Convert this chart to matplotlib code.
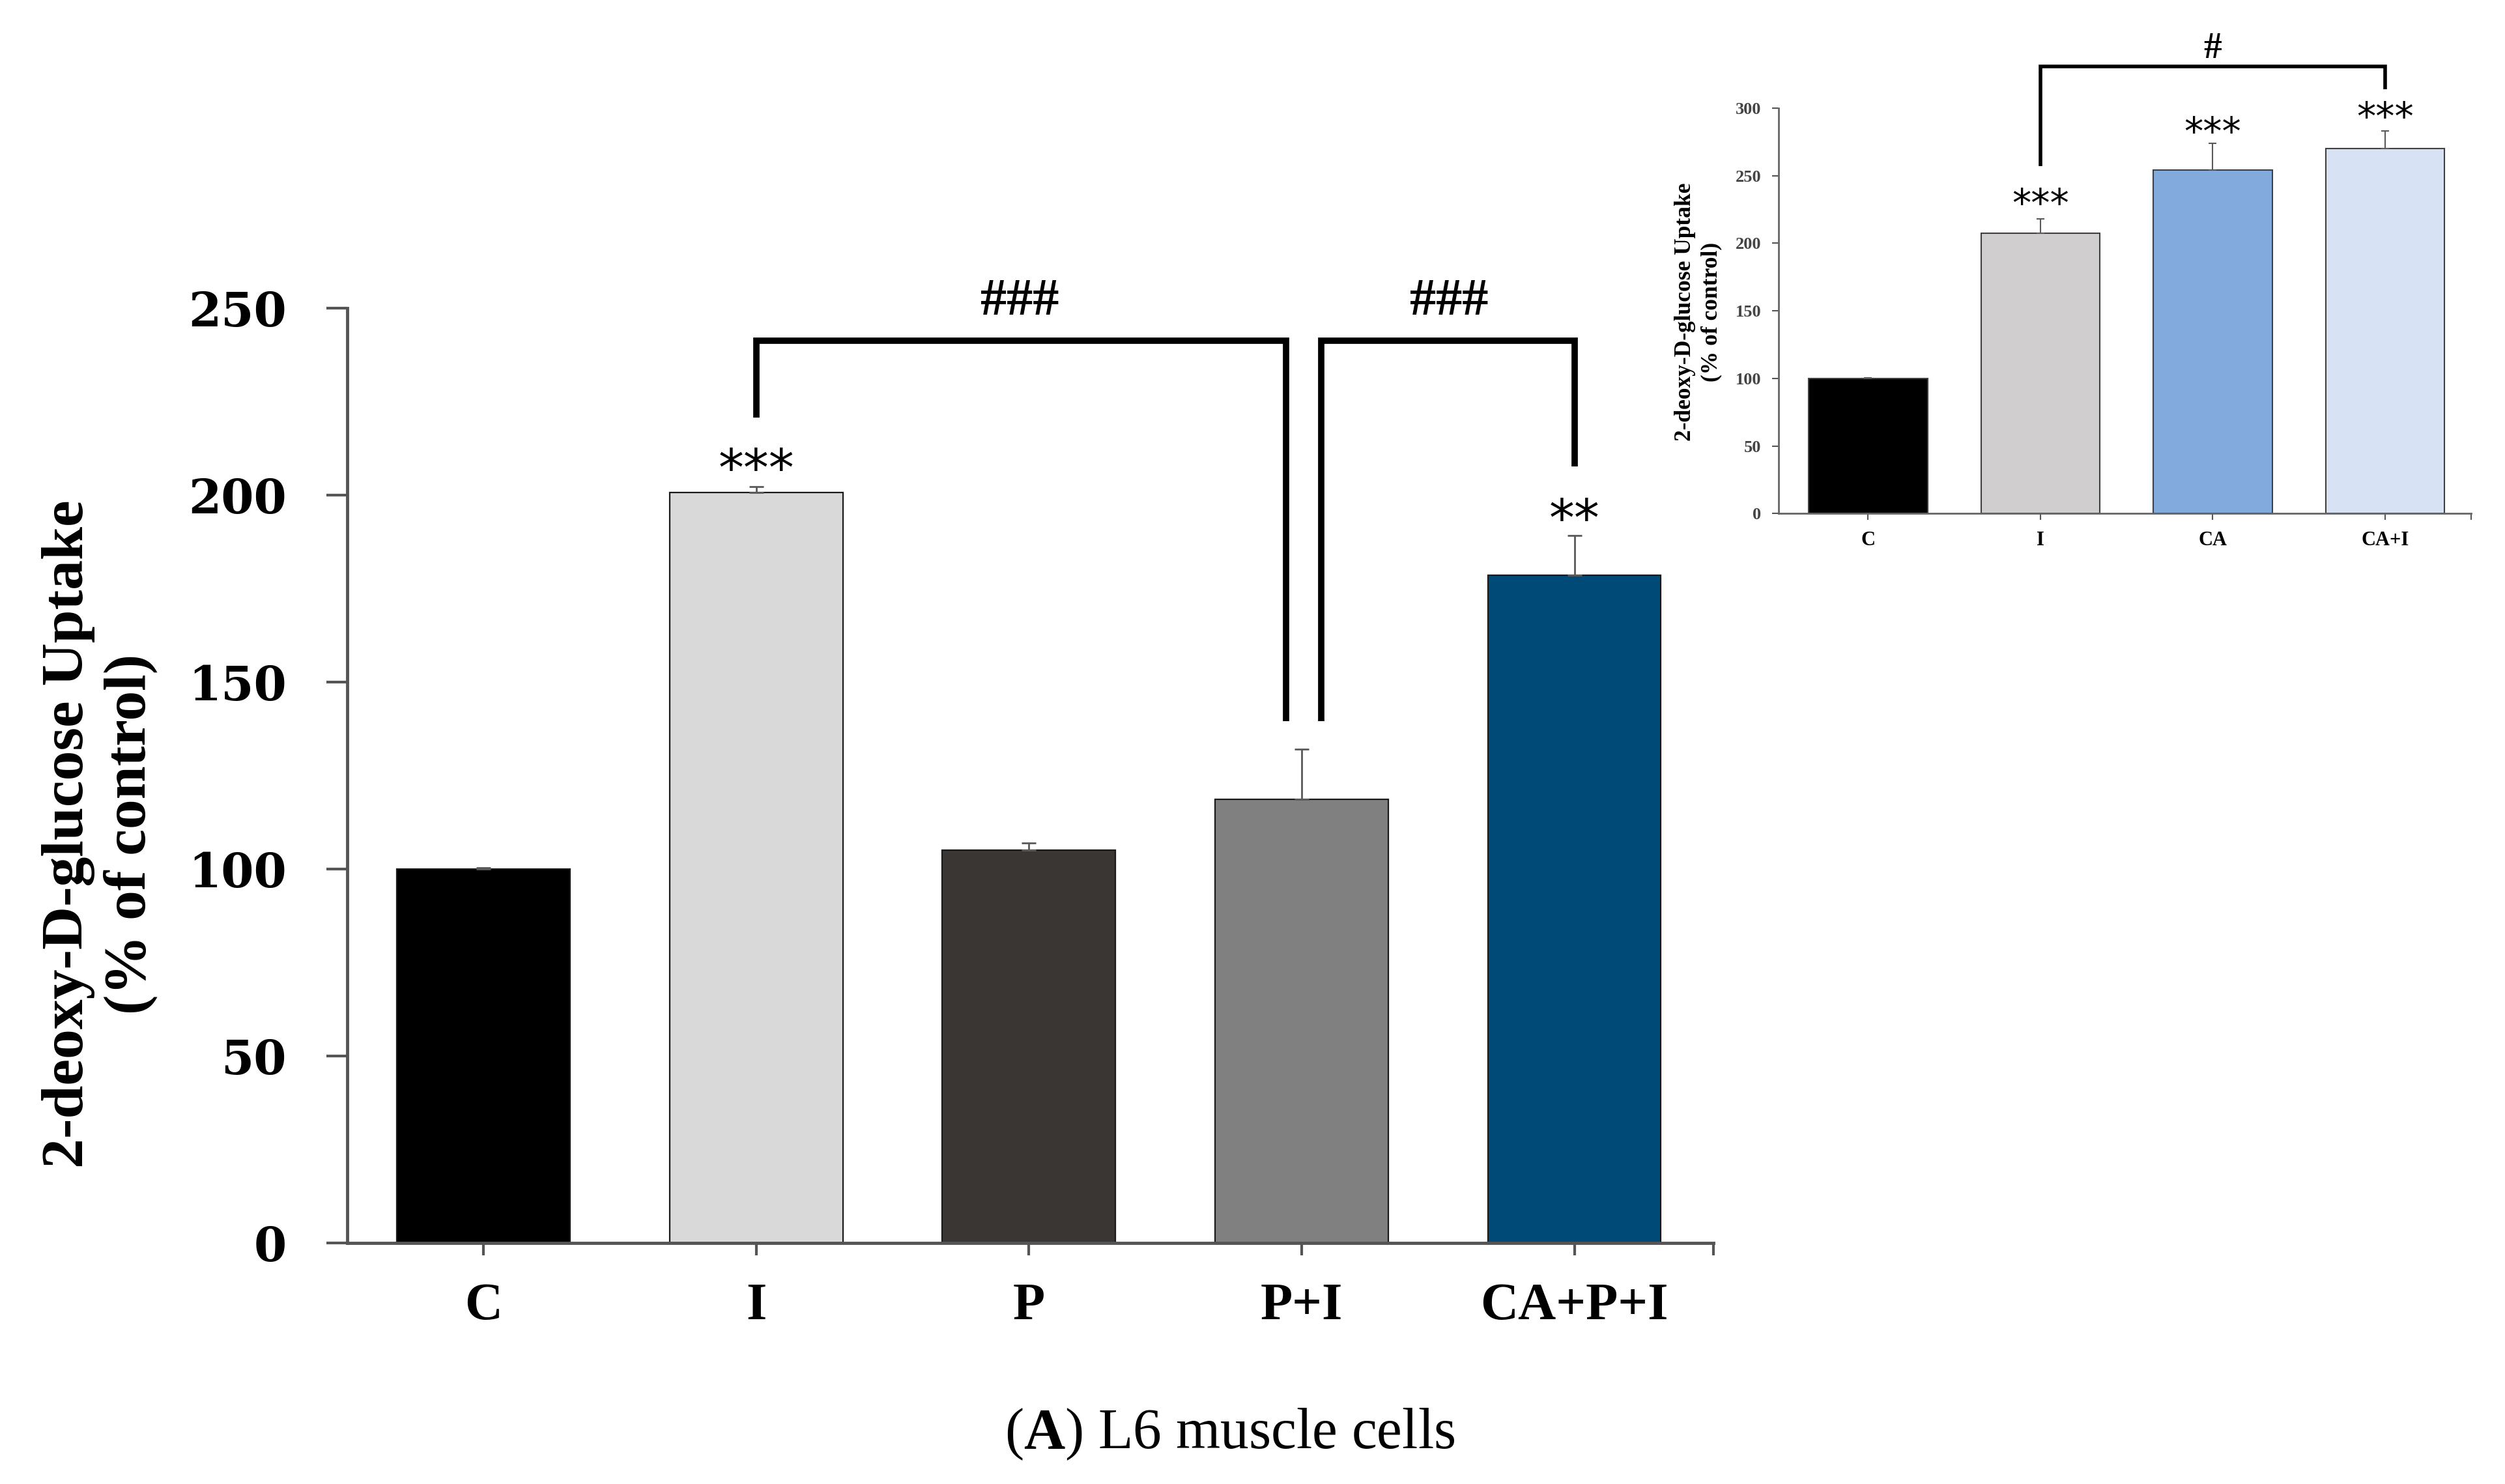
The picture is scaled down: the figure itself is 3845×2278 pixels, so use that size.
import numpy as np
import matplotlib
matplotlib.use("Agg")
import matplotlib.pyplot as plt
from matplotlib.ticker import FixedLocator

plt.rcParams['mathtext.fontset'] = 'custom'
plt.rcParams['mathtext.rm'] = 'Liberation Serif'
plt.rcParams['mathtext.bf'] = 'Liberation Serif:bold'

# main panel data
groups = ["C", "I", "P", "P+I", "CA+P+I"]
uptake = [100, 200.6, 105, 118.7, 178.6]
sem = [0.3, 1.6, 2.0, 13.3, 10.6]
bar_colors = ["#000000", "#d9d9d9", "#3a3633", "#808080", "#004a78"]
stars = ["", "***", "", "", "**"]
star_y = [0, 206.5, 0, 0, 193]
yticks_main = [0, 50, 100, 150, 200, 250]

# inset data
groups_in = ["C", "I", "CA", "CA+I"]
uptake_in = [100, 207.4, 254, 270]
sem_in = [0.4, 10.6, 20, 13]
colors_in = ["#000000", "#d1cecf", "#82aadd", "#d7e3f4"]
stars_in = ["", "***", "***", "***"]
star_y_in = [0, 228, 281, 292]
yticks_in = [0, 50, 100, 150, 200, 250, 300]

fig = plt.figure(figsize=(38.45, 22.78), dpi=100)

# ---------------- main chart ----------------
ax = fig.add_axes([0.1386, 0.1624, 0.684 - 0.1386, 0.63])
x = np.arange(len(groups))
ax.bar(x, uptake, width=0.635, color=bar_colors, edgecolor="#1a1a1a", linewidth=1.6, zorder=2)
ax.errorbar(x, uptake, yerr=[np.zeros(len(sem)), sem], fmt="none", ecolor="#5a5a5a",
            elinewidth=2, capsize=8, capthick=2, zorder=3)
ax.set_xlim(-0.5, 4.51)
ax.set_ylim(0, 250)
ax.set_yticks(yticks_main)
ax.set_xticks(x)
ax.set_xticklabels(groups, fontfamily="Liberation Serif", fontweight="bold", fontsize=58)
ax.set_yticklabels([str(v) for v in yticks_main], fontfamily="DejaVu Serif", fontweight="bold", fontsize=52)
ax.xaxis.set_minor_locator(FixedLocator([4.51]))
ax.tick_params(axis="y", direction="out", length=23, width=3, color="#555555", pad=44)
ax.tick_params(axis="x", which="both", direction="out", length=14, width=3, color="#555555", pad=30)
for s in ["top", "right"]:
    ax.spines[s].set_visible(False)
for s in ["left", "bottom"]:
    ax.spines[s].set_linewidth(3.5)
    ax.spines[s].set_color("#555555")

for xi, s, sy in zip(x, stars, star_y):
    if s:
        ax.text(xi, sy, s, ha="center", va="center", fontsize=56, fontfamily="DejaVu Sans", clip_on=False)

# significance brackets
bk = dict(color="black", lw=7, clip_on=False, solid_capstyle="butt", solid_joinstyle="miter")
ax.plot([1, 1, 2.943, 2.943], [220.7, 241.3, 241.3, 139.5], **bk)
ax.plot([3.071, 3.071, 4, 4], [139.5, 241.3, 241.3, 207.6], **bk)
ax.text(1.967, 251.7, "###", ha="center", va="center", fontsize=58, fontfamily="Liberation Serif",
        fontweight="bold", clip_on=False)
ax.text(3.54, 251.7, "###", ha="center", va="center", fontsize=58, fontfamily="Liberation Serif",
        fontweight="bold", clip_on=False)

fig.text(0.0398, 0.438, "2-deoxy-D-glucose Uptake\n(% of control)", rotation=90, ha="center",
         va="center", multialignment="center", fontsize=66, fontfamily="Liberation Serif",
         fontweight="bold", linespacing=1.2)

# ---------------- inset chart ----------------
ax2 = fig.add_axes([0.710, 0.654, 0.9865 - 0.710, 0.9271 - 0.654])
xi2 = np.arange(len(groups_in))
ax2.bar(xi2, uptake_in, width=0.69, color=colors_in, edgecolor="#404040", linewidth=1.5, zorder=2)
ax2.errorbar(xi2, uptake_in, yerr=[np.zeros(len(sem_in)), sem_in], fmt="none", ecolor="#5a5a5a",
             elinewidth=1.5, capsize=4, capthick=1.5, zorder=3)
ax2.set_xlim(-0.52, 3.5)
ax2.set_ylim(0, 300)
ax2.set_yticks(yticks_in)
ax2.set_xticks(xi2)
ax2.set_xticklabels(groups_in, fontfamily="Liberation Serif", fontweight="bold", fontsize=22)
ax2.set_yticklabels([str(v) for v in yticks_in], fontfamily="Liberation Serif", fontsize=19,
                    fontweight="bold", color="#444444")
ax2.xaxis.set_minor_locator(FixedLocator([3.5]))
ax2.tick_params(axis="y", direction="out", length=7, width=1.5, color="#555555", pad=12)
ax2.tick_params(axis="x", which="both", direction="out", length=7, width=1.5, color="#555555", pad=12)
for s in ["top", "right"]:
    ax2.spines[s].set_visible(False)
for s in ["left", "bottom"]:
    ax2.spines[s].set_linewidth(2)
    ax2.spines[s].set_color("#666666")

for xx, s, sy in zip(xi2, stars_in, star_y_in):
    if s:
        ax2.text(xx, sy, s, ha="center", va="center", fontsize=42, fontfamily="DejaVu Sans", clip_on=False)

ax2.plot([1, 1, 3, 3], [257, 331, 331, 314], color="black", lw=4, clip_on=False,
         solid_capstyle="butt", solid_joinstyle="miter")
ax2.text(2, 344, "#", ha="center", va="center", fontsize=40, fontfamily="Liberation Serif",
         fontweight="bold", clip_on=False)

fig.text(0.678, 0.7897, "2-deoxy-D-glucose Uptake\n(% of control)", rotation=90, ha="center",
         va="center", multialignment="center", fontsize=25.5, fontfamily="Liberation Serif",
         fontweight="bold", linespacing=1.3)

# caption
fig.text(0.491, 0.0334, r"($\mathbf{A}$) L6 muscle cells", ha="center", va="center",
         fontsize=63, fontfamily="Liberation Serif")

fig.savefig("out.png", dpi=100, facecolor="white")
